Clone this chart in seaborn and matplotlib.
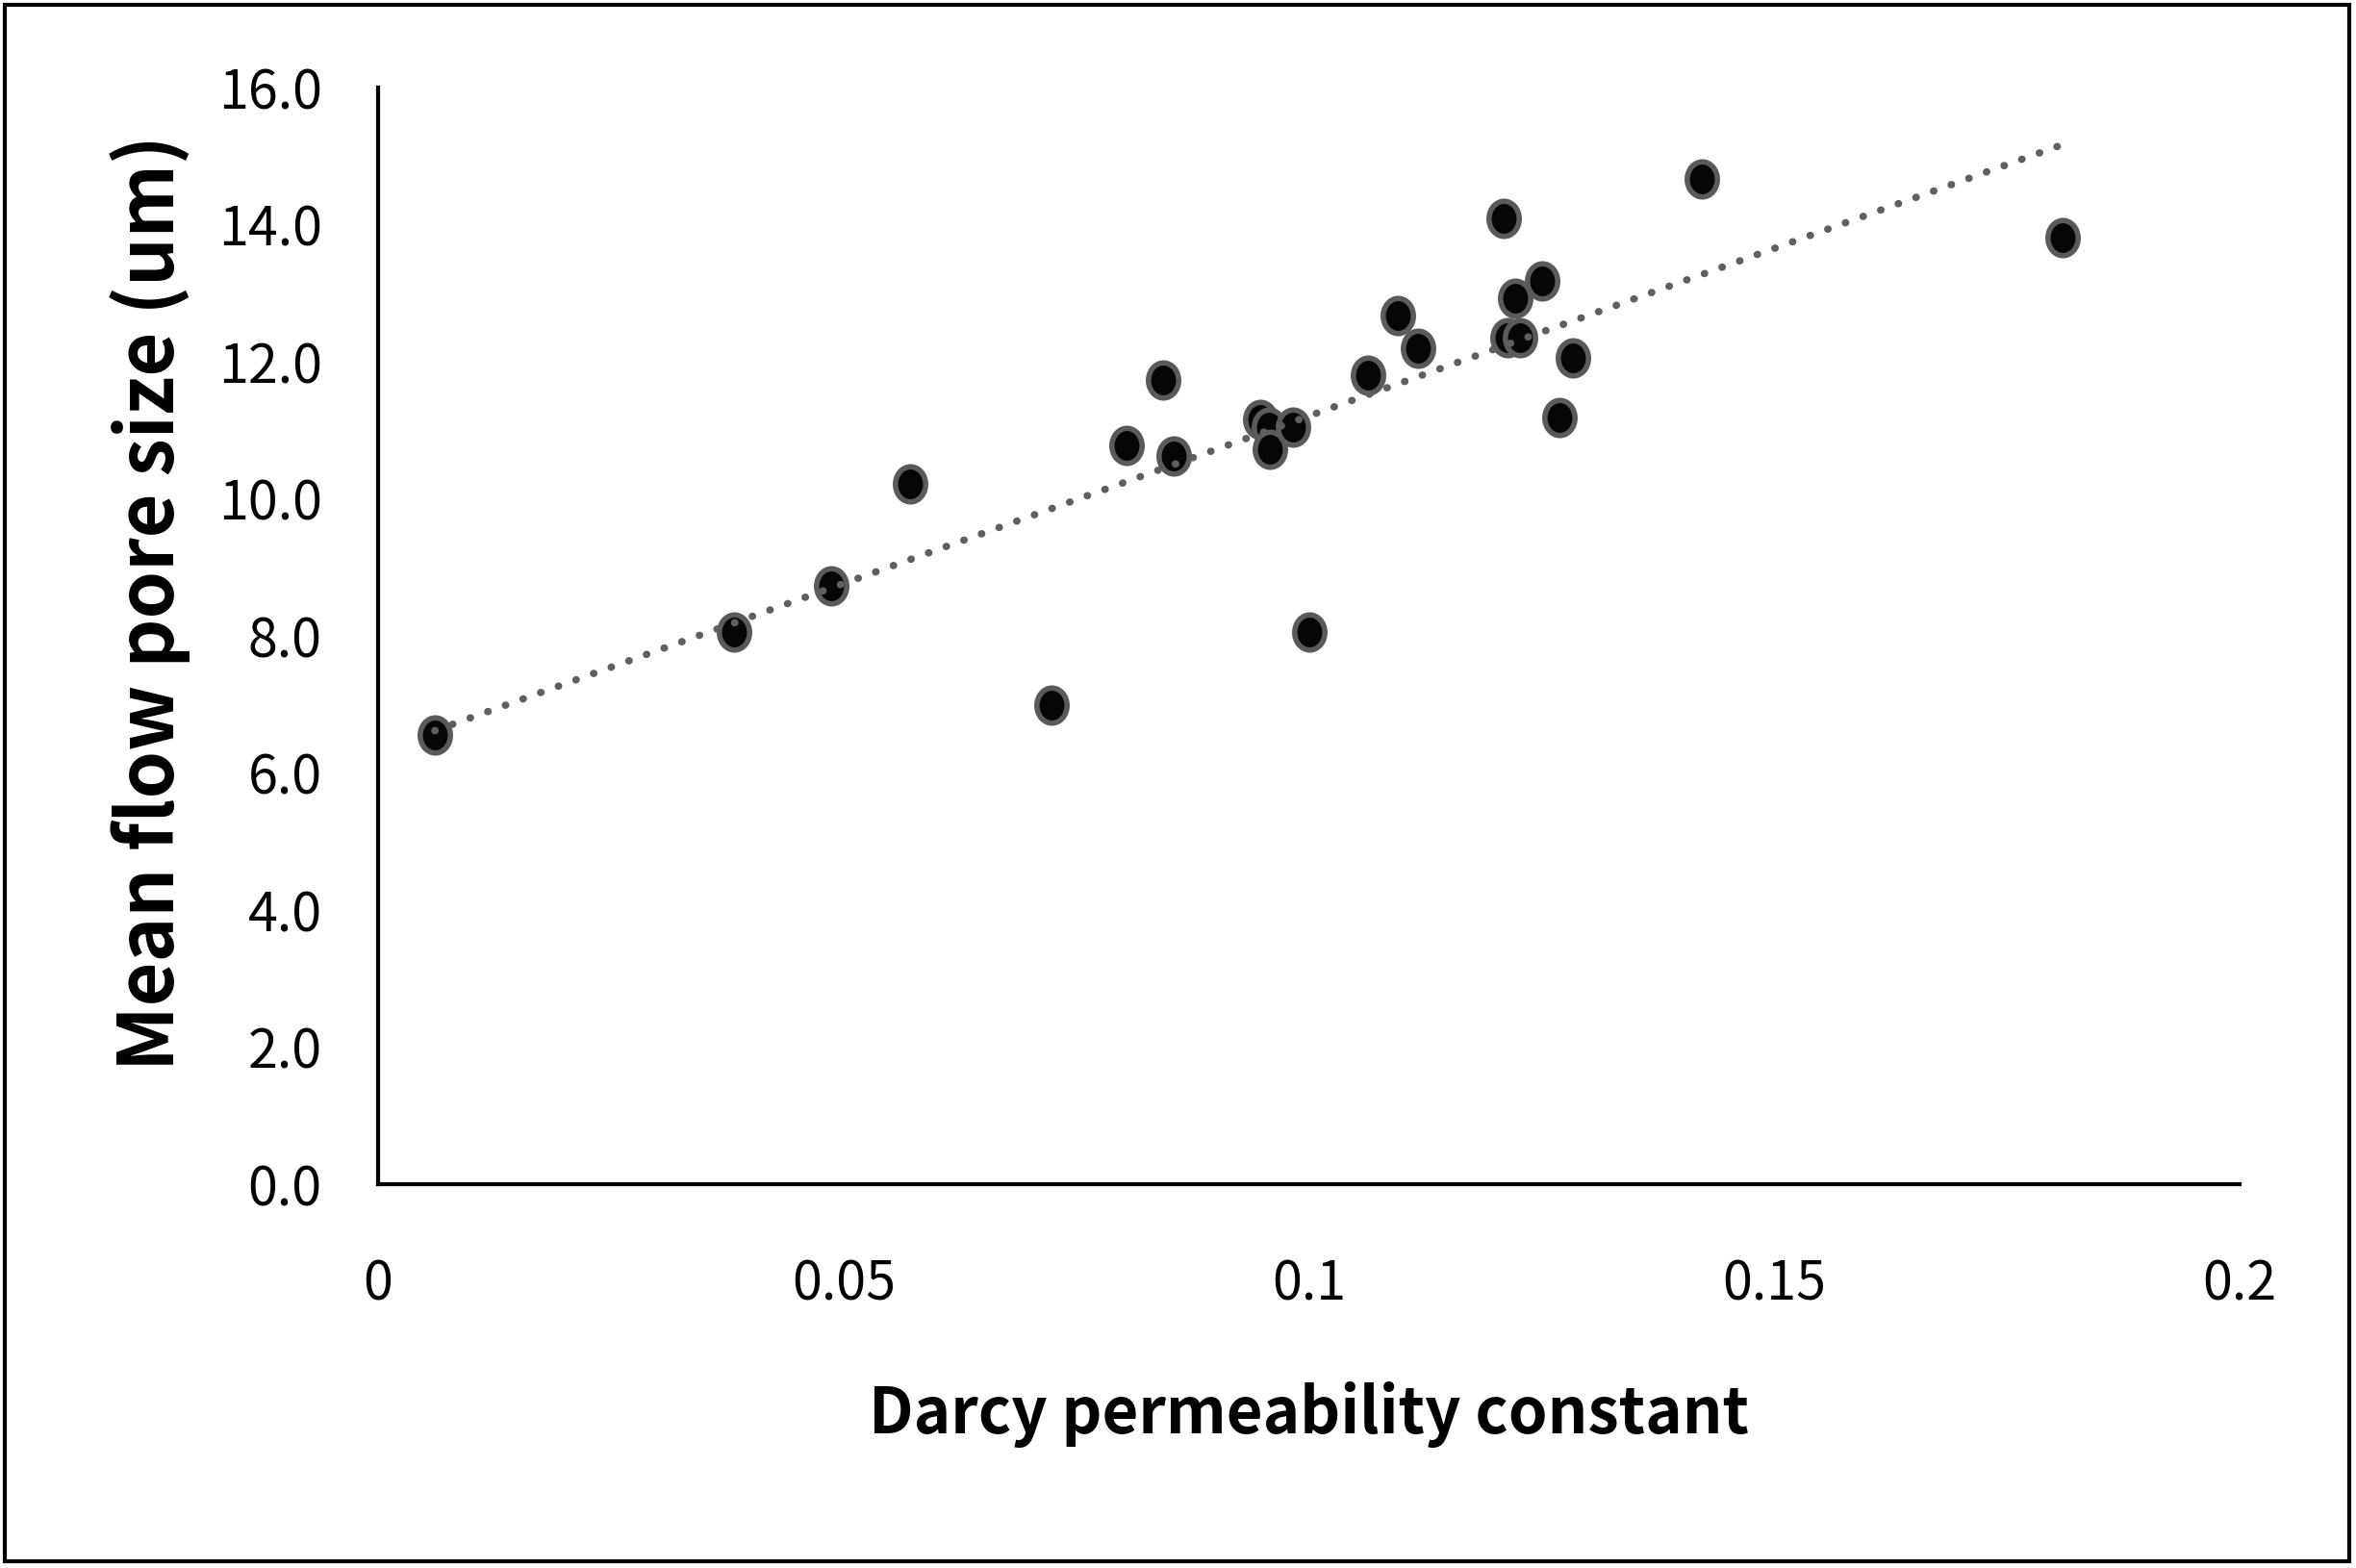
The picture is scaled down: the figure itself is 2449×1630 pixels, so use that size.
import numpy as np
import pandas as pd
import matplotlib
matplotlib.use("Agg")
import matplotlib.pyplot as plt
import seaborn as sns
from matplotlib import font_manager
from matplotlib.path import Path
from matplotlib.patches import Rectangle

# ---- data ----
darcy = [0.0061, 0.0382, 0.0487, 0.0572, 0.0723, 0.0804, 0.0843, 0.0855,
         0.0948, 0.0957, 0.0958, 0.0983, 0.1001, 0.1064, 0.1096, 0.1117,
         0.1209, 0.1213, 0.1227, 0.1222, 0.1251, 0.1269, 0.1284, 0.1422, 0.1810]
pore = [6.56, 8.05, 8.73, 10.22, 6.99, 10.78, 11.74, 10.63,
        11.16, 11.04, 10.72, 11.05, 8.05, 11.81, 12.67, 12.19,
        14.09, 12.35, 12.35, 12.93, 13.18, 11.19, 12.06, 14.67, 13.81]
x_ticks = [0, 0.05, 0.1, 0.15, 0.2]
x_tick_labels = ["0", "0.05", "0.1", "0.15", "0.2"]
y_ticks = [0, 2, 4, 6, 8, 10, 12, 14, 16]
y_tick_labels = ["0.0", "2.0", "4.0", "6.0", "8.0", "10.0", "12.0", "14.0", "16.0"]
x_label = "Darcy permeability constant"
y_label = "Mean flow pore size (um)"

df = pd.DataFrame({"darcy": darcy, "pore": pore})

sns.set_style("white")
names = {f.name for f in font_manager.fontManager.ttflist}
narrow = "Liberation Sans Narrow" in names
fam = ["Liberation Sans Narrow", "DejaVu Sans"] if narrow else ["Noto Sans CJK KR", "DejaVu Sans"]
plt.rcParams["font.family"] = fam
plt.rcParams["text.color"] = "black"
plt.rcParams["axes.labelcolor"] = "black"

tick_fs = 48 if narrow else 40
xlab_fs = 57 if narrow else 47
ylab_fs = 70 if narrow else 57

fig = plt.figure(figsize=(24.49, 16.30), dpi=100)
ax = fig.add_axes([393 / 2449, 1 - 1231 / 1630, 1935 / 2449, 1140 / 1630])

# slightly tall elliptical marker
circ = Path.unit_circle()
marker_path = Path(circ.vertices * np.array([0.86, 1.0]), circ.codes)

sns.scatterplot(data=df, x="darcy", y="pore", ax=ax, marker=marker_path,
                s=690, color="#060606", edgecolor="#5a5a5a", linewidth=4,
                zorder=2, legend=False)
sns.regplot(data=df, x="darcy", y="pore", ax=ax, scatter=False, ci=None,
            truncate=True,
            line_kws=dict(color="#5f5f5f", linewidth=5.5,
                          linestyle=(0, (0.05, 2.5)), dash_capstyle="round",
                          zorder=3))

ax.set_xlim(0, 0.2)
ax.set_ylim(0, 16)
ax.set_xticks(x_ticks)
ax.set_xticklabels(x_tick_labels)
ax.set_yticks(y_ticks)
ax.set_yticklabels(y_tick_labels)
ax.tick_params(axis="both", length=0, labelsize=tick_fs, colors="black")
ax.tick_params(axis="x", pad=55)
ax.tick_params(axis="y", pad=42)

for s in ["top", "right"]:
    ax.spines[s].set_visible(False)
for s in ["left", "bottom"]:
    ax.spines[s].set_color("black")
    ax.spines[s].set_linewidth(3)

ax.set_xlabel(x_label, fontsize=xlab_fs, fontweight="bold", va="center", color="black")
ax.xaxis.set_label_coords(0.5, -0.21)
ax.set_ylabel(y_label, fontsize=ylab_fs, fontweight="bold", va="center", color="black")
ax.yaxis.set_label_coords(-0.1225, 0.53)

# outer chart border
fig.patches.append(Rectangle((5 / 2449, 7 / 1630), 2437 / 2449, 1618 / 1630,
                             transform=fig.transFigure, fill=False,
                             edgecolor="black", linewidth=3))

fig.savefig("out.png", dpi=100, facecolor="white")
